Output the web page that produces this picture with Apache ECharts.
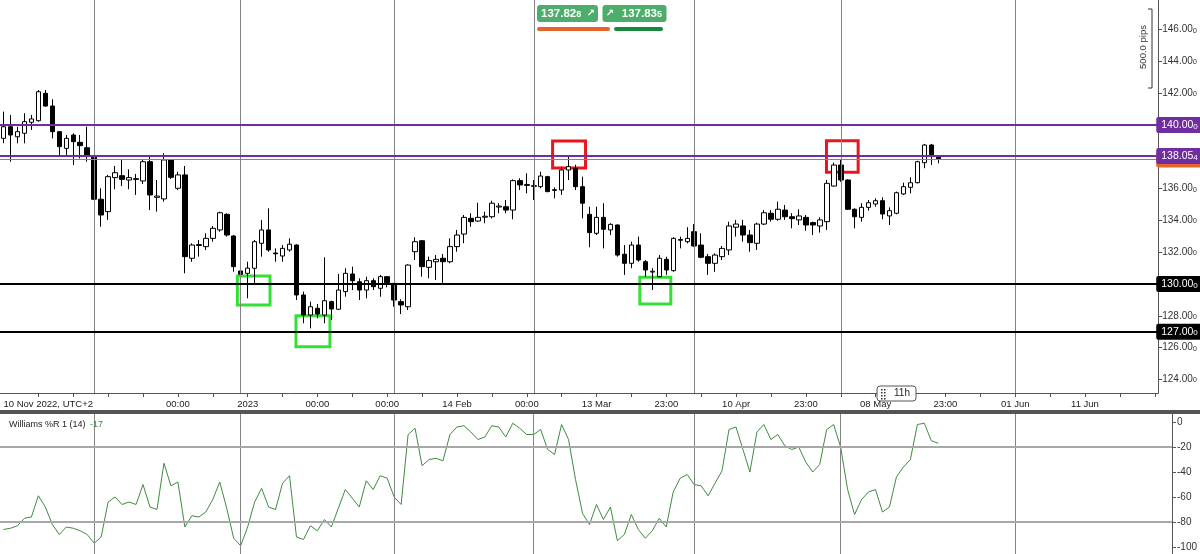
<!DOCTYPE html>
<html><head><meta charset="utf-8">
<script src="https://cdn.jsdelivr.net/npm/echarts@6/dist/echarts.min.js"></script>
<style>html,body{margin:0;padding:0;background:#fff;overflow:hidden}#c{width:1200px;height:554px}</style>
</head><body><div id="c"></div>
<script>
// ---- data (daily candles from 10 Nov 2022) ----
const opens = [139.16,139.89,139.26,139.48,140.17,140.27,141.99,141.19,139.58,138.53,139.37,138.91,138.57,138.00,135.33,134.55,136.69,136.81,136.54,136.62,136.48,137.69,135.45,135.35,137.80,136.02,136.86,131.62,132.42,132.35,132.87,133.40,134.38,133.02,130.82,130.67,130.99,132.56,133.40,131.95,131.76,132.14,132.45,129.31,128.05,128.47,128.05,128.89,128.41,129.52,130.63,130.14,129.62,130.21,129.73,130.46,130.04,128.89,128.57,132.03,132.72,131.05,131.40,131.62,131.40,132.35,133.14,134.13,133.96,134.20,134.23,134.84,134.86,134.65,136.50,136.20,136.18,136.12,136.75,135.93,135.91,137.17,137.28,136.12,134.38,133.19,134.19,133.40,133.71,131.87,131.30,132.45,131.40,130.75,130.46,131.55,130.84,132.75,132.66,133.29,132.45,131.72,131.30,131.72,132.14,133.57,133.65,133.08,132.56,133.77,134.45,134.07,134.65,134.23,134.03,134.19,133.86,133.65,133.92,136.16,137.48,136.54,134.70,134.19,134.82,135.03,135.24,134.28,134.45,135.66,136.08,136.37,137.63,138.74,138.00];
const closes = [139.89,139.37,139.58,140.21,140.38,142.09,141.19,139.58,138.64,139.16,138.95,138.70,138.11,135.33,134.34,136.75,137.00,136.58,136.69,136.58,137.69,135.60,135.53,137.80,136.71,136.86,131.72,132.45,132.48,132.87,133.50,134.48,133.08,131.09,130.61,131.00,132.66,133.40,132.14,131.90,132.24,132.50,129.31,128.05,128.57,128.11,128.95,128.43,129.62,130.67,130.21,129.62,130.21,129.83,130.46,130.08,128.99,128.68,131.19,132.66,131.09,131.47,131.55,131.40,132.35,133.08,134.19,133.92,134.19,134.26,135.08,134.90,134.65,136.50,136.23,136.26,136.14,136.79,135.81,135.89,137.17,137.38,136.12,135.08,133.23,134.19,133.44,133.75,131.82,131.30,132.45,131.51,130.88,130.80,131.62,130.88,132.87,132.80,132.87,132.39,131.68,131.30,131.82,132.24,133.65,133.77,133.08,132.60,133.77,134.48,134.07,134.70,134.23,134.11,134.28,133.71,133.71,134.03,136.33,137.48,136.54,134.70,134.23,134.82,135.11,135.24,134.40,134.61,135.74,136.12,136.37,137.69,138.74,138.05,137.88];
const lows = [138.85,137.69,138.85,138.85,139.69,140.21,141.15,139.16,138.11,138.00,137.48,137.90,137.69,135.28,133.60,134.03,135.96,136.16,135.96,135.60,136.29,134.65,134.55,135.18,136.60,135.91,130.67,131.40,131.72,132.14,132.66,133.29,132.98,130.77,130.30,129.10,130.04,131.72,132.03,131.40,131.40,132.03,128.99,127.53,127.21,127.84,127.53,127.74,128.36,129.20,129.62,128.99,129.10,129.62,129.20,129.79,128.57,128.11,128.36,131.51,130.46,130.36,130.25,129.94,131.30,132.03,132.56,133.60,133.92,133.82,134.13,134.45,134.45,134.07,135.91,135.70,135.28,136.02,135.77,135.39,135.60,136.54,135.91,134.13,132.31,133.08,132.24,133.08,131.72,130.57,130.99,131.40,130.46,129.62,130.42,130.57,130.77,132.24,132.56,132.35,131.62,130.57,130.77,131.51,131.82,132.98,132.66,132.03,132.14,133.71,133.92,133.98,134.03,133.50,133.71,133.35,133.08,133.23,133.40,136.12,136.43,134.65,133.50,133.92,134.61,134.86,134.07,133.71,134.38,135.60,135.70,136.33,137.28,137.48,137.59];
const highs = [140.84,140.63,139.89,140.74,140.63,142.20,142.20,141.62,139.60,139.37,139.48,139.37,139.89,138.05,136.02,136.86,137.42,137.84,137.21,136.92,137.84,138.00,136.54,138.22,137.85,137.06,137.42,132.56,132.77,133.19,133.65,134.55,134.45,133.08,130.88,131.40,132.77,134.03,134.76,132.24,132.45,132.87,132.50,129.52,128.89,128.74,131.68,128.95,130.63,130.99,131.09,130.36,130.46,130.36,130.57,130.50,130.05,129.04,131.24,132.94,132.77,131.72,131.82,131.89,132.87,133.40,134.34,134.45,135.11,134.55,135.24,135.08,135.28,136.58,136.65,136.96,136.54,137.06,136.80,136.08,137.38,138.10,137.50,136.75,134.86,134.86,135.08,133.82,133.75,132.45,132.66,132.98,131.51,130.99,131.82,131.72,132.94,132.98,133.57,133.77,133.19,131.89,131.93,132.39,133.92,134.03,134.03,133.40,133.86,134.65,134.65,135.18,134.97,134.45,134.70,134.34,133.92,134.19,136.54,137.63,137.84,136.58,134.76,135.08,135.28,135.39,135.45,134.82,135.81,136.37,136.71,137.75,138.81,138.81,138.05];
const williamsR = [-86,-85,-83,-77,-76,-59,-68,-82,-90,-84,-85,-87,-90,-97,-92,-64,-60,-66,-64,-66,-50,-68,-70,-33,-51,-48,-84,-75,-76,-72,-62,-48,-69,-93,-99,-84,-64,-53,-68,-70,-49,-43,-92,-94,-83,-87,-78,-84,-69,-54,-61,-68,-47,-54,-43,-45,-60,-66,-10,-5,-35,-30,-29,-31,-10,-4,-3,-8,-14,-12,-3,-4,-12,-1,-5,-10,-10,-6,-22,-26,-2,-14,-46,-73,-82,-66,-78,-68,-95,-90,-74,-86,-93,-87,-77,-84,-56,-45,-42,-50,-51,-59,-49,-39,-6,-4,-22,-40,-8,-2,-14,-10,-19,-22,-20,-32,-40,-34,-6,-2,-20,-54,-74,-62,-56,-54,-72,-68,-44,-36,-30,-2,-1,-15,-17];
const tickLabels = {0:'10 Nov 2022, UTC+2',25:'00:00',35:'2023',45:'00:00',55:'00:00',65:'14 Feb',75:'00:00',85:'13 Mar',95:'23:00',105:'10 Apr',115:'23:00',125:'08 May',135:'23:00',145:'01 Jun',155:'11 Jun'};
const sessionLines = [13,34,56,76,99,120,145];
const levels = [
  {price:137.83, text:'137.83', small:'0', color:'#e8622c', width:1},
  {price:140.000, text:'140.00', small:'0', color:'#6f2da0', width:2},
  {price:138.054, text:'138.05', small:'4', color:'#6f2da0', width:2},
  {price:130.000, text:'130.00', small:'0', color:'#000000', width:2},
  {price:127.000, text:'127.00', small:'0', color:'#000000', width:2}
];
// annotation boxes: [fromIndex, topPrice, toIndex, bottomPrice]
const redBoxes = [[78.70,138.99,83.42,137.30],[117.95,139.01,122.49,137.03]];
const greenBoxes = [[33.52,130.50,38.20,128.68],[41.92,128.01,46.79,126.06],[91.20,130.42,95.64,128.74]];
const oscLevels = [-20,-80];

const N_TOP = 166, N_BOT = 168;
const catsTop = Array.from({length:N_TOP},(_, i)=> i===0 ? {value:'0', textStyle:{align:'left'}} : String(i));
const catsBot = Array.from({length:N_BOT},(_, i)=> String(i));
const candleData = opens.map((o,i)=>[o, closes[i], lows[i], highs[i]]);

const FONT = 'Liberation Sans';
const chart = echarts.init(document.getElementById('c'), null, {renderer:'canvas'});

const boxArea = (b, color) => [{xAxis:b[0], yAxis:b[1], itemStyle:{color:'rgba(0,0,0,0)', borderColor:color, borderWidth:3}}, {xAxis:b[2], yAxis:b[3]}];

const option = {
  animation:false,
  backgroundColor:'#ffffff',
  textStyle:{fontFamily:FONT},
  grid:[
    {left:-1.8, top:0, width:1160.8, height:393},
    {left:-1.8, top:414, width:1174.8, height:140}
  ],
  xAxis:[
    {type:'category', gridIndex:0, data:catsTop, boundaryGap:true, z:10,
     axisLine:{onZero:false, lineStyle:{color:'#555', width:1}},
     axisTick:{show:true, alignWithLabel:true, length:4, lineStyle:{color:'#555'}, interval:(i)=> i>0 && i%5===0},
     axisLabel:{interval:(i)=> tickLabels[i]!==undefined, formatter:(v,i)=> tickLabels[i]||'', color:'#222', fontSize:9.5, margin:6, fontFamily:FONT},
     splitLine:{show:false}},
    {type:'category', gridIndex:1, data:catsBot, boundaryGap:true, show:false},
    {type:'value', gridIndex:0, min:-0.5, max:N_TOP-0.5, show:false}
  ],
  yAxis:[
    {type:'value', gridIndex:0, position:'right', min:123.145, max:147.86, minInterval:2, maxInterval:2, scale:true,
     axisLine:{show:true, onZero:false, lineStyle:{color:'#555'}},
     axisTick:{show:true, length:4, lineStyle:{color:'#555'}},
     splitLine:{show:false},
     axisLabel:{showMinLabel:false, showMaxLabel:false, margin:4, color:'#333',
       formatter:(v)=> '{a|'+v.toFixed(2)+'}{b|0}',
       rich:{a:{fontSize:10, color:'#333', fontFamily:FONT}, b:{fontSize:7.5, color:'#333', fontFamily:FONT, padding:[2,0,0,0]}}}},
    {type:'value', gridIndex:1, position:'right', min:-105.6, max:6.4, minInterval:20, maxInterval:20,
     axisLine:{show:true, onZero:false, lineStyle:{color:'#555'}},
     axisTick:{show:true, length:4, lineStyle:{color:'#555'}},
     splitLine:{show:false},
     axisLabel:{showMinLabel:false, showMaxLabel:false, margin:5, color:'#333', fontSize:10, fontFamily:FONT}}
  ],
  series:[
    {type:'line', xAxisIndex:2, yAxisIndex:0, data:[], z:1, silent:true,
     markLine:{silent:true, symbol:['none','none'], label:{show:false}, animation:false,
       lineStyle:{color:'#858585', width:1, type:'solid'},
       data: sessionLines.map(v=>({xAxis:v}))}},
    {type:'candlestick', xAxisIndex:0, yAxisIndex:0, data:candleData, barWidth:5, z:2,
     itemStyle:{color:'#ffffff', color0:'#000000', borderColor:'#000000', borderColor0:'#000000', borderColorDoji:'#000000', borderWidth:1}},
    {type:'line', xAxisIndex:2, yAxisIndex:0, data:[], z:3, silent:true,
     markLine:{silent:true, symbol:['none','none'], animation:false,
       data: levels.map(l=>({yAxis:l.price, lineStyle:{color:l.color, width:l.width, type:'solid'},
         label:{show:true, position:'end', distance:-2, formatter:'{a|'+l.text+'}{b|'+l.small+'}',
           backgroundColor:l.color, padding:[3,5,2,5], borderRadius:2,
           rich:{a:{color:'#fff', fontSize:10.5, fontFamily:FONT}, b:{color:'#fff', fontSize:8, fontFamily:FONT, padding:[2,0,0,0]}}}}))},
     markArea:{silent:true, label:{show:false},
       data: redBoxes.map(b=>boxArea(b,'#e5171d')).concat(greenBoxes.map(b=>boxArea(b,'#34e034')))}},
    {type:'line', xAxisIndex:1, yAxisIndex:1, data:williamsR, showSymbol:false, symbol:'none', z:3,
     lineStyle:{color:'#3f8c3f', width:1}, itemStyle:{color:'#3f8c3f'},
     markLine:{silent:true, symbol:['none','none'], label:{show:false}, animation:false,
       data: sessionLines.map(v=>({xAxis:v, lineStyle:{color:'#858585', width:1, type:'solid'}}))
         .concat(oscLevels.map(v=>({yAxis:v, lineStyle:{color:'#a8a8a8', width:2, type:'solid'}})))}}
  ],
  graphic:[
    {type:'rect', z:100, shape:{x:0, y:410, width:1200, height:4}, style:{fill:'#555'}},
    {type:'rect', z:100, shape:{x:537, y:5, width:61, height:17, r:3}, style:{fill:'#4dae6b'}},
    {type:'text', z:101, x:541, y:13.5, style:{text:'{a|137.82}{b|8}', verticalAlign:'middle', rich:{a:{fill:'#fff', fontSize:11.5, fontWeight:'bold', fontFamily:FONT}, b:{fill:'#fff', fontSize:9, fontWeight:'bold', fontFamily:FONT, padding:[2,0,0,0]}}}},
    {type:'text', z:101, x:591, y:13.5, style:{text:'\u2197', fill:'#fff', fontSize:10, fontWeight:'bold', fontFamily:'DejaVu Sans', align:'center', verticalAlign:'middle'}},
    {type:'rect', z:100, shape:{x:602.5, y:5, width:64, height:17, r:3}, style:{fill:'#4dae6b'}},
    {type:'text', z:101, x:610, y:13.5, style:{text:'\u2197', fill:'#fff', fontSize:10, fontWeight:'bold', fontFamily:'DejaVu Sans', align:'center', verticalAlign:'middle'}},
    {type:'text', z:101, x:662, y:13.5, style:{text:'{a|137.83}{b|5}', align:'right', verticalAlign:'middle', rich:{a:{fill:'#fff', fontSize:11.5, fontWeight:'bold', fontFamily:FONT}, b:{fill:'#fff', fontSize:9, fontWeight:'bold', fontFamily:FONT, padding:[2,0,0,0]}}}},
    {type:'rect', z:100, shape:{x:537, y:27, width:73, height:4, r:2}, style:{fill:'#e8622c'}},
    {type:'rect', z:100, shape:{x:614, y:27, width:49, height:4, r:2}, style:{fill:'#17893a'}},
    {type:'text', z:100, x:1143, y:47, rotation:Math.PI/2, style:{text:'500.0 pips', fill:'#333', fontSize:9.5, fontFamily:FONT, align:'center', verticalAlign:'middle'}},
    {type:'polyline', z:100, shape:{points:[[1148,9],[1152,9],[1152,88],[1148,88]]}, style:{stroke:'#333', lineWidth:1, fill:null}},
    {type:'rect', z:100, shape:{x:877, y:386, width:39, height:15, r:3}, style:{fill:'#fff', stroke:'#555', lineWidth:1}},
    {type:'group', z:101, children:[0,1,2,3].flatMap(r=>[0,1].map(c=>({type:'rect', z:101, shape:{x:881+c*3, y:389+r*3, width:1.5, height:1.5}, style:{fill:'#333'}})))},
    {type:'text', z:101, x:894, y:393.5, style:{text:'11h', fill:'#222', fontSize:10, fontFamily:FONT, verticalAlign:'middle'}},
    {type:'text', z:100, x:9, y:425, style:{text:'Williams %R 1 (14)', fill:'#222', fontSize:9, fontFamily:FONT, verticalAlign:'middle'}},
    {type:'text', z:100, x:90, y:425, style:{text:'-17', fill:'#3d8b3d', fontSize:9, fontFamily:FONT, verticalAlign:'middle'}}
  ]
};
chart.setOption(option);
</script>
</body></html>
